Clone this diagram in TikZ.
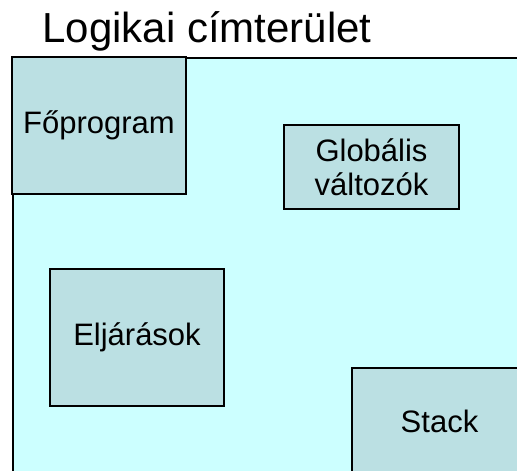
\documentclass[tikz,border=0pt]{standalone}
\usepackage{fontspec}
\setmainfont{Liberation Sans}
\definecolor{areafill}{HTML}{CCFFFF}
\definecolor{boxfill}{HTML}{BBE0E3}
\tikzset{
  region/.style={draw=black, line width=2pt, fill=areafill, inner sep=0pt},
  segment/.style={draw=black, line width=1.2pt, fill=boxfill, inner sep=0pt,
    align=center, font=\fontsize{31}{34}\selectfont},
  heading/.style={inner sep=0pt, font=\fontsize{42}{50}\selectfont}
}
\begin{document}
\begin{tikzpicture}[x=1pt, y=-1pt]
  \useasboundingbox (0,0) rectangle (517,471);
  \clip (0,0) rectangle (517,471);
  \fill[white] (0,0) rectangle (517,471);
  % title
  \node[heading, anchor=base] (title) at (207,42) {Logikai címterület};
  % the address space
  \node[region, anchor=north west, minimum width=540pt, minimum height=460pt] (space) at (12,57) {};
  % its parts
  \node[segment, minimum width=174pt, minimum height=137pt] (main) at (99,125.5) {Főprogram};
  \node[segment, minimum width=175pt, minimum height=84pt] (globals) at (371.5,167) {Globális\\változók};
  \node[segment, minimum width=174pt, minimum height=137pt] (procs) at (137,337.5) {Eljárások};
  \node[segment, minimum width=175pt, minimum height=106pt] (stack) at (439.5,421) {Stack};
\end{tikzpicture}
\end{document}
